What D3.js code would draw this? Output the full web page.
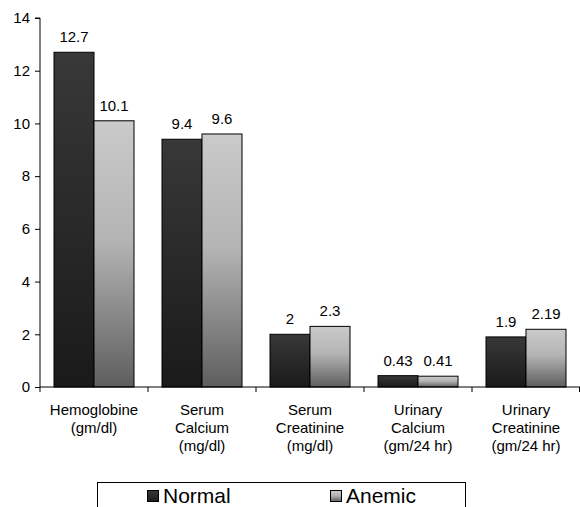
<!DOCTYPE html>
<html><head><meta charset="utf-8">
<script src="https://cdn.jsdelivr.net/npm/d3@7"></script>
<style>body{margin:0;background:#fff;} text{font-family:"Liberation Sans",Arial,sans-serif;}</style>
</head><body>
<svg id="c" width="580" height="507"></svg>
<script>
const categories = [["Hemoglobine","(gm/dl)"],["Serum","Calcium","(mg/dl)"],["Serum","Creatinine","(mg/dl)"],["Urinary","Calcium","(gm/24 hr)"],["Urinary","Creatinine","(gm/24 hr)"]];
const seriesNames = ["Normal","Anemic"];
const normal = [12.7, 9.4, 2, 0.43, 1.9];
const anemic = [10.1, 9.6, 2.3, 0.41, 2.19];
const normalLabels = ["12.7","9.4","2","0.43","1.9"];
const anemicLabels = ["10.1","9.6","2.3","0.41","2.19"];
const yTicks = [0,2,4,6,8,10,12,14];

(function(){
const svg = d3.select("#c");
const defs = svg.append("defs");
const g1 = defs.append("linearGradient").attr("id","gN").attr("x1",0).attr("y1",0).attr("x2",0).attr("y2",1);
g1.append("stop").attr("offset","0%").attr("stop-color","#383838");
g1.append("stop").attr("offset","100%").attr("stop-color","#1a1a1a");
const g2 = defs.append("linearGradient").attr("id","gA").attr("x1",0).attr("y1",0).attr("x2",0).attr("y2",1);
g2.append("stop").attr("offset","0%").attr("stop-color","#cacaca");
g2.append("stop").attr("offset","45%").attr("stop-color","#b4b4b4");
g2.append("stop").attr("offset","100%").attr("stop-color","#5e5e5e");

const mLeft = 40, mRight = 580, mTop = 18, mBottom = 387;
const fs = 15;
const x0 = d3.scaleBand().domain(d3.range(categories.length)).range([mLeft,mRight]).paddingInner(0).paddingOuter(0);
const x1 = d3.scaleBand().domain(seriesNames).range([14, x0.bandwidth()-14]);
const y = d3.scaleLinear().domain([0,14]).range([mBottom,mTop]);

const yAxis = d3.axisLeft(y).tickValues(yTicks).tickSize(5).tickPadding(5).tickFormat(d3.format("d"));
const ya = svg.append("g").attr("transform",`translate(${mLeft},0)`).call(yAxis);
ya.select(".domain").attr("stroke","#000").attr("d",`M-5,${mTop}H0V${mBottom}`);
ya.selectAll("text").attr("font-size",fs+"px").attr("fill","#000").attr("font-family","Liberation Sans, Arial, sans-serif");

const data = categories.map((c,i)=>({i, vals:[{s:"Normal",v:normal[i],l:normalLabels[i]},{s:"Anemic",v:anemic[i],l:anemicLabels[i]}]}));
const grp = svg.selectAll("g.cat").data(data).enter().append("g").attr("class","cat").attr("transform",d=>`translate(${x0(d.i)},0)`);
grp.selectAll("rect").data(d=>d.vals).enter().append("rect")
  .attr("x",d=>x1(d.s)).attr("width",x1.bandwidth())
  .attr("y",d=>y(d.v)).attr("height",d=>mBottom-y(d.v))
  .attr("fill",d=>d.s==="Normal"?"url(#gN)":"url(#gA)")
  .attr("stroke","#000").attr("stroke-width",1);
grp.selectAll("text.val").data(d=>d.vals).enter().append("text").attr("class","val")
  .attr("x",d=>x1(d.s)+x1.bandwidth()/2).attr("y",d=>y(d.v)-10)
  .attr("text-anchor","middle").attr("font-size",fs+"px").text(d=>d.l);

svg.append("line").attr("x1",mLeft).attr("x2",mRight).attr("y1",mBottom).attr("y2",mBottom).attr("stroke","#000");
const bounds = d3.range(categories.length+1).map(i=> i<categories.length? x0(i): mRight-0.5);
svg.selectAll("line.xt").data(bounds).enter().append("line").attr("class","xt")
  .attr("x1",d=>d).attr("x2",d=>d).attr("y1",mBottom).attr("y2",mBottom+5).attr("stroke","#000");
const xl = svg.selectAll("text.cl").data(categories).enter().append("text").attr("class","cl")
  .attr("x",(d,i)=>x0(i)+x0.bandwidth()/2).attr("y",415).attr("text-anchor","middle").attr("font-size",fs+"px");
xl.selectAll("tspan").data(d=>d).enter().append("tspan").attr("x",function(){return d3.select(this.parentNode).attr("x");})
  .attr("dy",(d,i)=>i===0?0:18).text(d=>d);

svg.append("rect").attr("x",97.5).attr("y",482.5).attr("width",368).attr("height",40).attr("fill","#fff").attr("stroke","#000");
const leg = [{s:"Normal",x:147,f:"url(#gN)"},{s:"Anemic",x:330,f:"url(#gA)"}];
const lg = svg.selectAll("g.leg").data(leg).enter().append("g").attr("class","leg");
lg.append("rect").attr("x",d=>d.x+0.5).attr("y",490.5).attr("width",11).attr("height",11).attr("fill",d=>d.f).attr("stroke","#000");
lg.append("text").attr("x",d=>d.x+16).attr("y",503).attr("font-size","21px").text(d=>d.s);
})();
</script>
</body></html>
